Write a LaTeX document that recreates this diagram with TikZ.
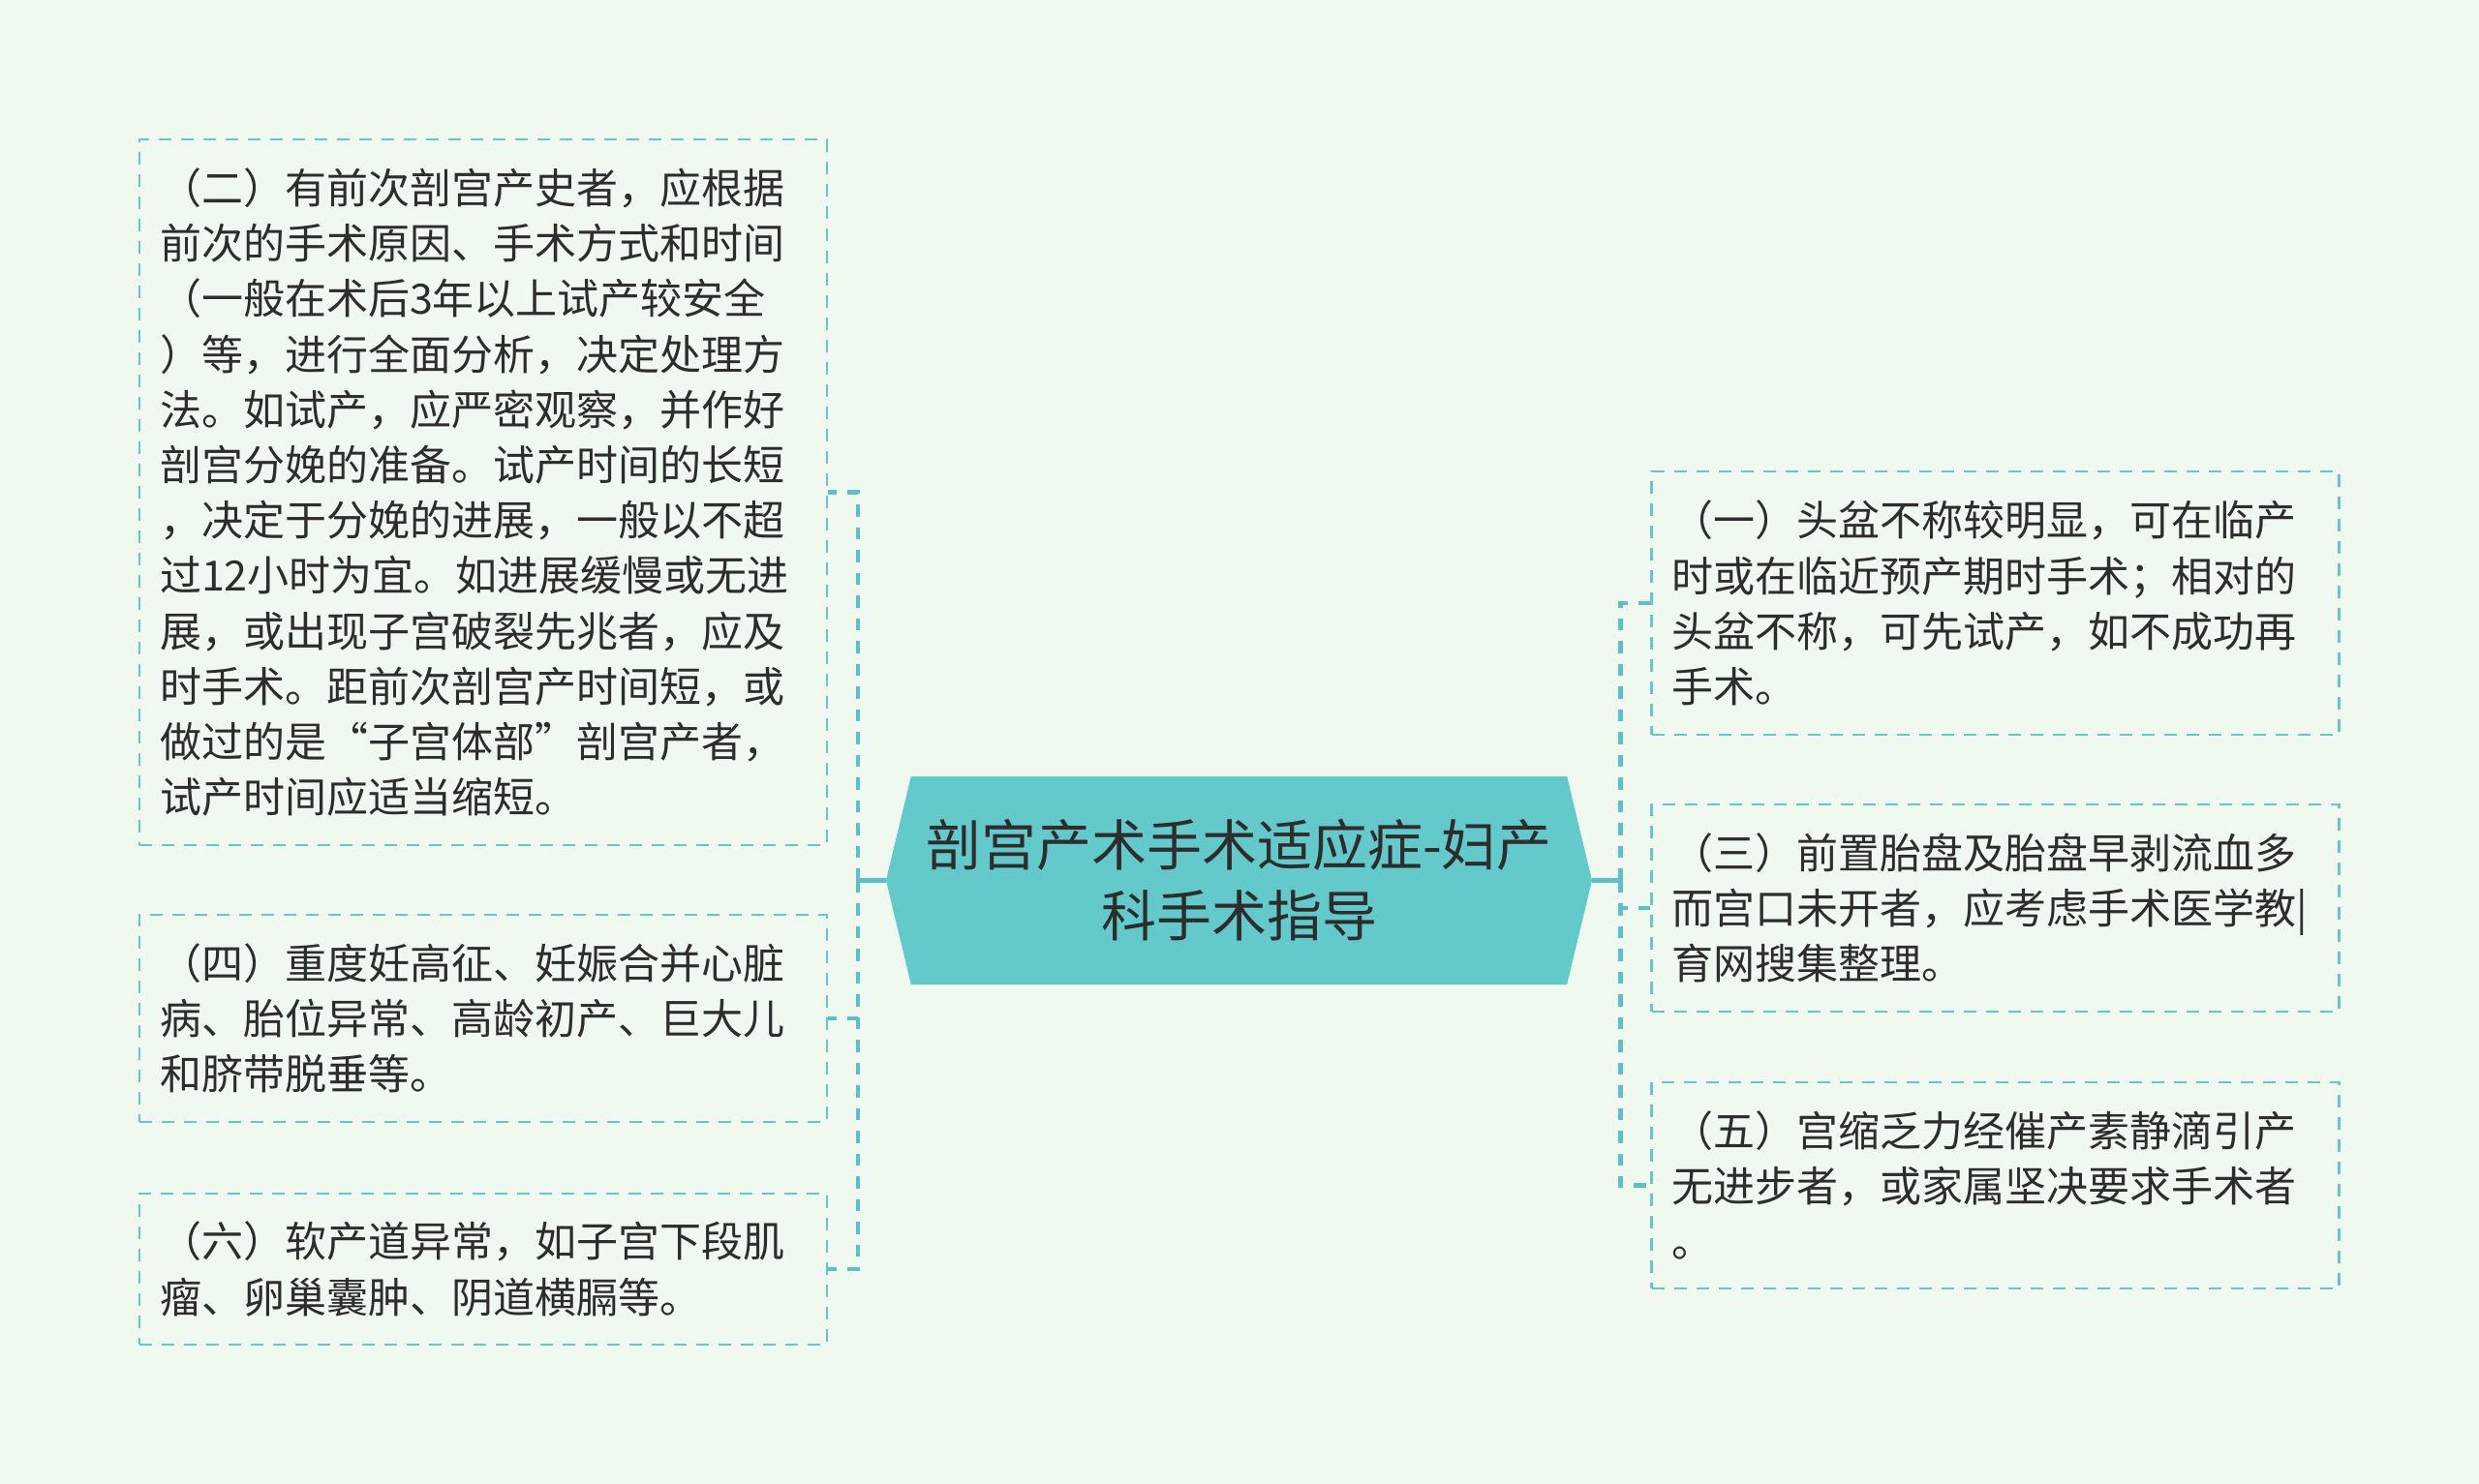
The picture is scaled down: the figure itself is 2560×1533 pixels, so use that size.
\documentclass[tikz,border=0pt]{standalone}
\usepackage{fontspec}
\setmainfont{Noto Sans CJK SC}
\usetikzlibrary{shapes.symbols}
\definecolor{paper}{RGB}{240,249,239}
\definecolor{hubcol}{RGB}{99,201,203}
\definecolor{boxcol}{RGB}{104,197,204}
\definecolor{linecol}{RGB}{92,192,198}
\definecolor{ink}{RGB}{45,45,45}

\begin{document}
\begin{tikzpicture}[
    x=1pt, y=-1pt,
    hub/.style={signal, signal to=west and east, signal pointer angle=153, fill=hubcol, text=ink, align=center, minimum width=729pt, minimum height=215pt, inner sep=0pt, font=\fontsize{57pt}{73pt}\selectfont},
    leaf/.style={rectangle, draw=boxcol, line width=2.6pt, dash pattern=on 13pt off 10pt, text=ink, align=left, text width=668pt, inner xsep=21pt, inner ysep=0pt, font=\fontsize{43pt}{57.2pt}\selectfont},
    link/.style={draw=linecol, line width=4.6pt, dash pattern=on 12.5pt off 11pt},
    stem/.style={draw=linecol, line width=4.6pt},
]
    \fill[paper] (0,0) rectangle (2560,1533);
    \useasboundingbox (0,0) rectangle (2560,1533);

    % centre
    \node[hub] (hub) at (1279.5,909.5) {剖宫产术手术适应症-妇产\\科手术指导};

    % left side
    \node[leaf, minimum height=729pt] (b2) at (499,508.5) {（二）有前次剖宫产史者，应根据\\前次的手术原因、手术方式和时间\\（一般在术后3年以上试产较安全\\）等，进行全面分析，决定处理方\\法。如试产，应严密观察，并作好\\剖宫分娩的准备。试产时间的长短\\，决定于分娩的进展，一般以不超\\过12小时为宜。如进展缓慢或无进\\展，或出现子宫破裂先兆者，应及\\时手术。距前次剖宫产时间短，或\\做过的是“子宫体部”剖宫产者，\\试产时间应适当缩短。};
    \node[leaf, minimum height=214pt] (b4) at (499,1052) {（四）重度妊高征、妊娠合并心脏\\病、胎位异常、高龄初产、巨大儿\\和脐带脱垂等。};
    \node[leaf, minimum height=156pt] (b6) at (499,1311) {（六）软产道异常，如子宫下段肌\\瘤、卵巢囊肿、阴道横膈等。};

    % right side
    \node[leaf, minimum height=272pt] (b1) at (2060.5,623) {（一）头盆不称较明显，可在临产\\时或在临近预产期时手术；相对的\\头盆不称，可先试产，如不成功再\\手术。};
    \node[leaf, minimum height=214pt] (b3) at (2060.5,938) {（三）前置胎盘及胎盘早剥流血多\\而宫口未开者，应考虑手术医学教|\\育网搜集整理。};
    \node[leaf, minimum height=213pt] (b5) at (2060.5,1224.5) {（五）宫缩乏力经催产素静滴引产\\无进步者，或家属坚决要求手术者\\。};

    \draw[stem] (hub.west) -- ++(-30,0);
    \draw[stem] (hub.east) -- ++(30,0);
    \draw[link] (hub.west) ++(-29,0) |- (b2.east);
    \draw[link] (hub.west) ++(-29,0) |- (b4.east);
    \draw[link] (hub.west) ++(-29,0) |- (b6.east);
    \draw[link] (hub.east) ++(29,0) |- (b1.west);
    \draw[link] (hub.east) ++(29,0) |- (b3.west);
    \draw[link] (hub.east) ++(29,0) |- (b5.west);
\end{tikzpicture}
\end{document}
